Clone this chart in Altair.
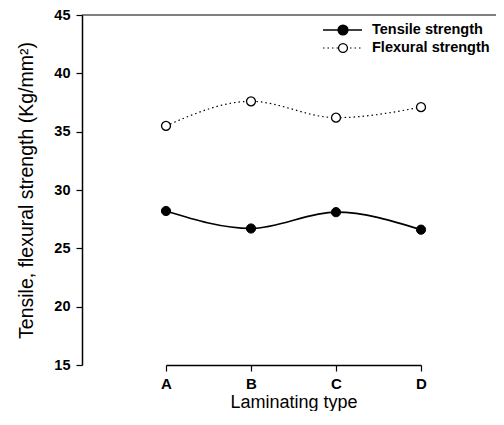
import altair as alt
import pandas as pd

# ---- data ----
categories = ["A", "B", "C", "D"]
tensile = [28.2, 26.7, 28.1, 26.6]
flexural = [35.5, 37.6, 36.2, 37.1]
series_names = ["Tensile strength", "Flexural strength"]
y_ticks = [15, 20, 25, 30, 35, 40, 45]

df = pd.DataFrame({
    "type": categories * 2,
    "value": tensile + flexural,
    "series": [series_names[0]] * len(categories) + [series_names[1]] * len(categories),
})

W, H = 414, 350
FONT = "Liberation Sans"

x = alt.X("type:N",
          scale=alt.Scale(type="point", domain=categories, range=[84, 339], padding=0),
          axis=alt.Axis(title="Laminating type", labelAngle=0, labelPadding=5,
                        titlePadding=2, titleFontSize=18, labelFontSize=15))
y = alt.Y("value:Q",
          scale=alt.Scale(domain=[15, 45], nice=False, zero=False),
          axis=alt.Axis(values=y_ticks, title="Tensile, flexural strength (Kg/mm²)",
                        labelPadding=6, titlePadding=17, titleFontSize=19.5,
                        labelFontSize=14.5))

base = alt.Chart(df)

t_line = base.transform_filter(alt.datum.series == series_names[0]).mark_line(
    color="black", strokeWidth=1.6, interpolate="monotone").encode(x=x, y=y)
f_line = base.transform_filter(alt.datum.series == series_names[1]).mark_line(
    color="black", strokeWidth=1.2, strokeDash=[1.5, 3], interpolate="monotone").encode(x=x, y=y)
t_pts = base.transform_filter(alt.datum.series == series_names[0]).mark_point(
    shape="circle", filled=True, fill="black", stroke="black", strokeWidth=1,
    size=85, opacity=1).encode(x=x, y=y)
f_pts = base.transform_filter(alt.datum.series == series_names[1]).mark_point(
    shape="circle", filled=True, fill="white", stroke="black", strokeWidth=1.3,
    size=80, opacity=1).encode(x=x, y=y)

# top frame line
frame_df = pd.DataFrame({"k": [0]})
top_rule = alt.Chart(frame_df).mark_rule(color="black", strokeWidth=1.2).encode(
    x=alt.value(0), x2=alt.value(W), y=alt.value(0))

# manual legend
legend_layers = []
leg_y = [15, 33]
for i, name in enumerate(series_names):
    ldf = pd.DataFrame({"label": [name]})
    if i == 0:
        rule = alt.Chart(ldf).mark_rule(color="black", strokeWidth=1.6)
        pt = alt.Chart(ldf).mark_point(shape="circle", filled=True, fill="black",
                                       stroke="black", size=85, opacity=1)
    else:
        rule = alt.Chart(ldf).mark_rule(color="black", strokeWidth=1.2, strokeDash=[1.5, 3])
        pt = alt.Chart(ldf).mark_point(shape="circle", filled=True, fill="white",
                                       stroke="black", strokeWidth=1.3, size=80, opacity=1)
    legend_layers.append(rule.encode(x=alt.value(241), x2=alt.value(280), y=alt.value(leg_y[i])))
    legend_layers.append(pt.encode(x=alt.value(261), y=alt.value(leg_y[i])))
    legend_layers.append(alt.Chart(ldf).mark_text(
        align="left", baseline="middle", font=FONT, fontSize=14.5, fontWeight="bold",
        color="black").encode(x=alt.value(290), y=alt.value(leg_y[i]), text="label:N"))

chart = alt.layer(
    t_line, f_line, t_pts, f_pts, top_rule, *legend_layers
).properties(
    width=W, height=H,
    autosize=alt.AutoSizeParams(type="none"),
    padding={"left": 74, "top": 7, "right": 0, "bottom": 46},
).configure_view(stroke=None).configure_axis(
    grid=False,
    domainColor="black", domainWidth=1.5,
    tickColor="black", tickSize=6, tickWidth=1.2,
    labelColor="black", labelFont=FONT, labelFontWeight="bold",
    titleColor="black", titleFont=FONT, titleFontWeight="normal",
)

chart.save("out.html", embed_options={"renderer": "svg", "actions": False})
